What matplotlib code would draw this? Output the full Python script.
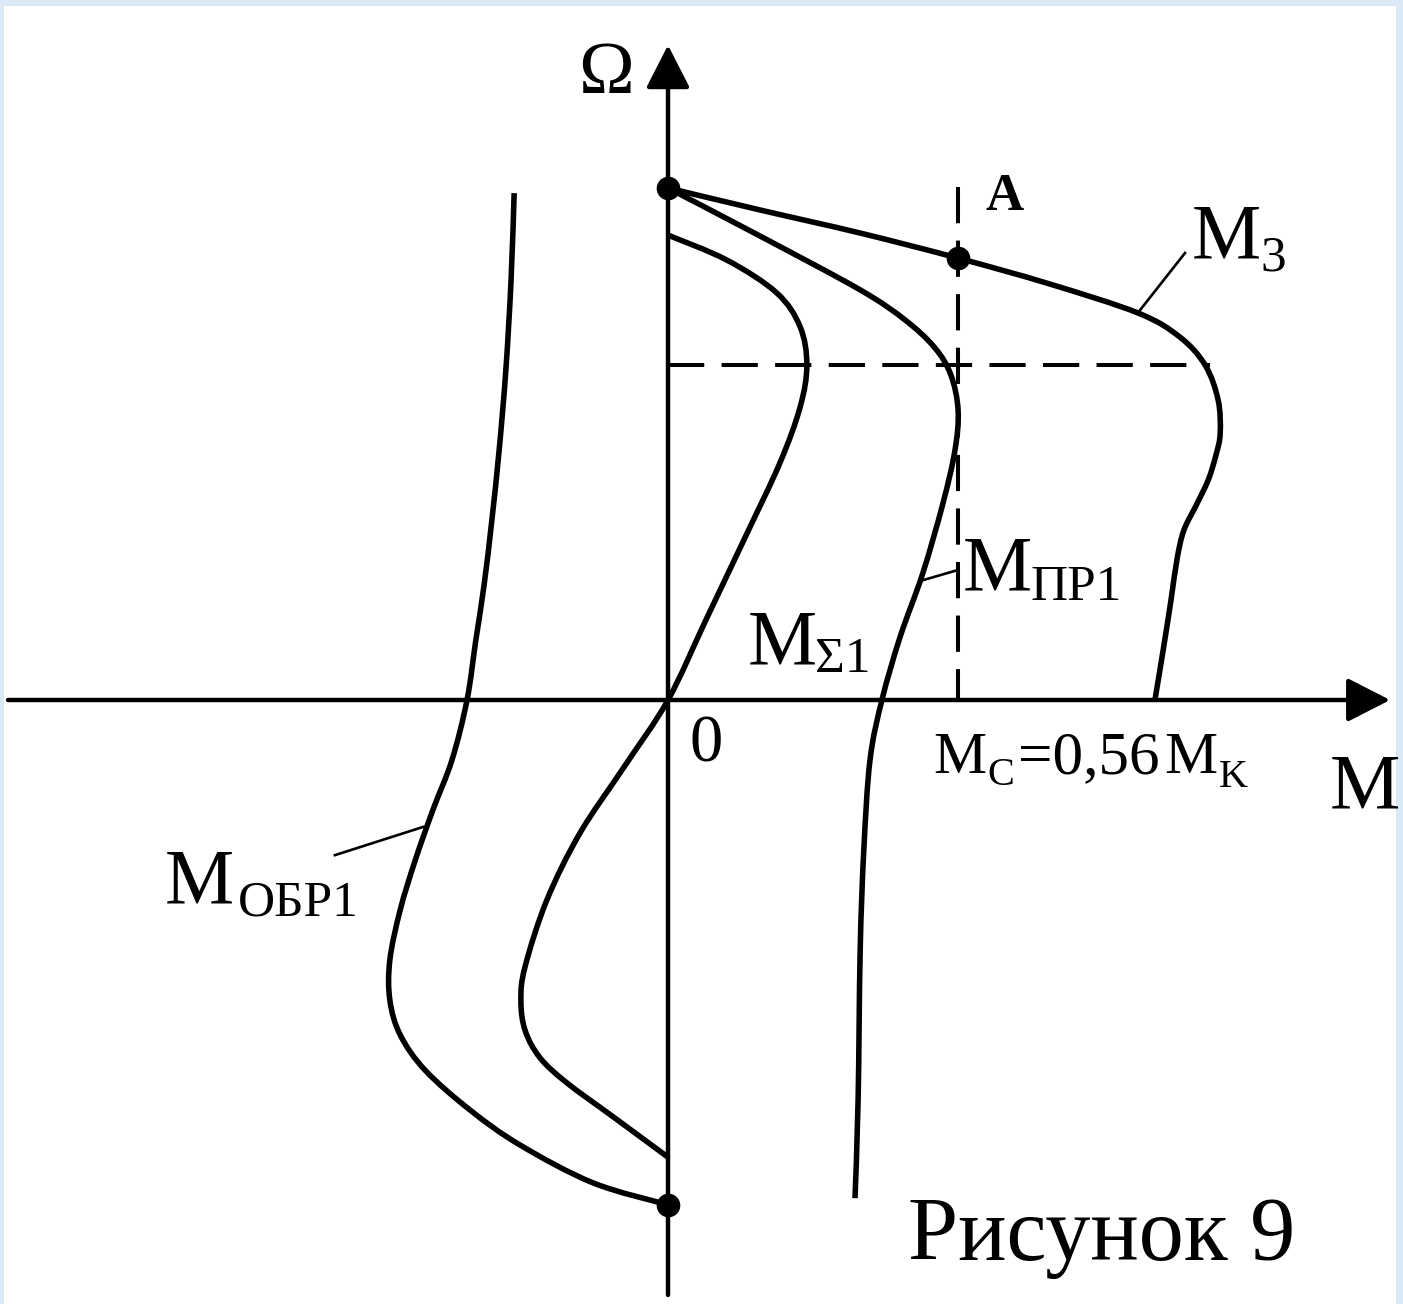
import numpy as np
import matplotlib
matplotlib.use("Agg")
import matplotlib.pyplot as plt
from matplotlib.path import Path
from matplotlib.patches import PathPatch, Rectangle

# torque M in units of M_K, speed in units of the no-load speed
m3_M = [0, 0.178, 0.371, 0.56, 0.732, 0.907, 0.988, 1.037, 1.062, 1.066, 1.058,
        1.043, 1.020, 0.996, 0.983, 0.971, 0.956, 0.94]
m3_W = [1.0, 0.957, 0.912, 0.863, 0.814, 0.756, 0.709, 0.654, 0.586, 0.521, 0.479,
        0.430, 0.381, 0.332, 0.277, 0.195, 0.098, 0.0]

mpr_M = [0, 0.178, 0.371, 0.458, 0.515, 0.546, 0.56, 0.554, 0.531, 0.492, 0.448,
         0.413, 0.39, 0.378, 0.371, 0.367, 0.361]
mpr_W = [1.0, 0.906, 0.801, 0.742, 0.688, 0.635, 0.566, 0.488, 0.385, 0.248, 0.123,
         0.0, -0.117, -0.293, -0.488, -0.781, -0.973]

msum_M = [0, 0.114, 0.21, 0.255, 0.268, 0.255, 0.216, 0.149, 0.073, 0, -0.085,
          -0.17, -0.234, -0.276, -0.284, -0.276, -0.247, -0.195, -0.106, 0]
msum_W = [0.908, 0.859, 0.795, 0.729, 0.654, 0.572, 0.463, 0.318, 0.156, 0, -0.131,
          -0.26, -0.391, -0.521, -0.586, -0.645, -0.699, -0.748, -0.814, -0.893]

mobr_M = [-0.297, -0.303, -0.313, -0.326, -0.340, -0.355, -0.371, -0.388, -0.417,
          -0.454, -0.488, -0.517, -0.537, -0.537, -0.517, -0.469, -0.382, -0.286,
          -0.145, 0]
mobr_W = [0.990, 0.820, 0.645, 0.488, 0.352, 0.225, 0.117, 0, -0.117, -0.215,
          -0.313, -0.410, -0.508, -0.586, -0.654, -0.723, -0.801, -0.869, -0.943,
          -0.986]

# marked points: no-load speed, point A, reverse no-load speed
dots_M = [0, 0.56, 0]
dots_W = [1.0, 0.863, -0.986]

Mc = 0.56        # load torque
W_crit = 0.654   # speed at the critical torque


def smooth(xs, ys):
    # Catmull-Rom spline through the points, as cubic Bezier segments
    p = np.column_stack([xs, ys]).astype(float)
    verts = [p[0]]
    codes = [Path.MOVETO]
    for i in range(len(p) - 1):
        p0 = p[i - 1] if i > 0 else p[i]
        p3 = p[i + 2] if i + 2 < len(p) else p[i + 1]
        verts += [p[i] + (p[i + 1] - p0) / 6, p[i + 1] - (p3 - p[i]) / 6, p[i + 1]]
        codes += [Path.CURVE4] * 3
    return Path(verts, codes)


plt.rcParams["font.family"] = ["Liberation Serif", "DejaVu Serif"]

fig = plt.figure(figsize=(14.03, 13.04), dpi=100)
fig.patch.set_facecolor("#dbe8f6")
fig.add_artist(Rectangle((4 / 1403, 0), 1392 / 1403, 1 - 6 / 1304,
                         transform=fig.transFigure, facecolor="white",
                         edgecolor="none", zorder=0))
ax = fig.add_axes([0, 0, 1, 1])
ax.set_facecolor("none")
ax.set_xlim(-1.2896, 1.4189)
ax.set_ylim(-1.1797, 1.3672)
ax.axis("off")

# axes with arrows
arrow = dict(arrowstyle="-|>,head_length=1.33,head_width=0.68", mutation_scale=20,
             lw=3.2, color="black", shrinkA=0, shrinkB=0)
ax.annotate("", xy=(1.394, 0), xytext=(-1.274, 0), arrowprops=arrow)
ax.annotate("", xy=(0, 1.279), xytext=(0, -1.162), arrowprops=arrow)

# dashed guides
ax.plot([Mc, Mc], [1.002, 0], color="black", lw=2.9, dashes=(9, 4.3))
ax.plot([0, 1.046], [W_crit, W_crit], color="black", lw=2.9, dashes=(9, 4.3))

for xs, ys in [(m3_M, m3_W), (mpr_M, mpr_W), (msum_M, msum_W), (mobr_M, mobr_W)]:
    ax.add_patch(PathPatch(smooth(xs, ys), fill=False, lw=4.0, edgecolor="black",
                           capstyle="butt", joinstyle="round"))

ax.plot(dots_M, dots_W, "o", color="black", markersize=16, zorder=5)

# leader lines
lead = dict(color="black", lw=1.9)
ax.plot([0.907, 0.998], [0.756, 0.873], **lead)
ax.plot([0.492, 0.56], [0.234, 0.254], **lead)
ax.plot([-0.473, -0.643], [-0.248, -0.303], **lead)

# labels
big, sub = 56, 37
ax.text(1.012, 0.865, "M", fontsize=big)
ax.text(1.143, 0.838, "3", fontsize=sub)
ax.text(0.569, 0.215, "M", fontsize=big)
ax.text(0.699, 0.195, "ПР1", fontsize=sub)
ax.text(0.153, 0.072, "M", fontsize=big)
ax.text(0.284, 0.054, "Σ1", fontsize=sub)
ax.text(-0.971, -0.395, "M", fontsize=big)
ax.text(-0.83, -0.42, "ОБР1", fontsize=sub)

ax.text(0.612, 0.957, "A", fontsize=38, fontweight="bold")
ax.text(-0.174, 1.186, "Ω", fontsize=54)
ax.text(0.042, -0.121, "0", fontsize=48)
ax.text(1.278, -0.209, "M", fontsize=57)

ax.text(0.512, -0.143, "M", fontsize=43)
ax.text(0.617, -0.166, "C", fontsize=29)
ax.text(0.675, -0.143, "=0,56", fontsize=44)
ax.text(0.958, -0.143, "M", fontsize=43)
ax.text(1.064, -0.17, "K", fontsize=29)

ax.text(0.463, -1.094, "Рисунок 9", fontsize=65)

fig.savefig("out.png", dpi=100, facecolor=fig.get_facecolor())
